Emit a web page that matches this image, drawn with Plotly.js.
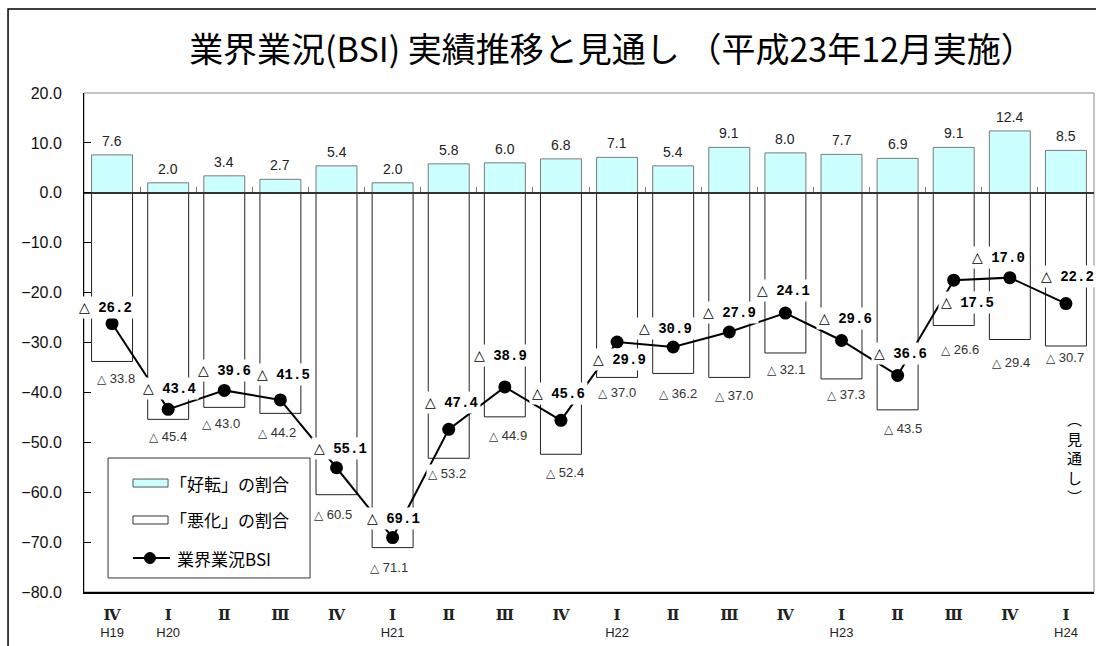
<!DOCTYPE html>
<html>
<head>
<meta charset="utf-8">
<script src="https://cdn.plot.ly/plotly-3.0.1.min.js"></script>
<style>html,body{margin:0;padding:0;background:#fff;}</style>
</head>
<body>
<div id="chart" style="width:1096px;height:646px;"></div>
<script>
// 四半期（平成年度）
const periods = ['H19Ⅳ','H20Ⅰ','H20Ⅱ','H20Ⅲ','H20Ⅳ','H21Ⅰ','H21Ⅱ','H21Ⅲ','H21Ⅳ',
                 'H22Ⅰ','H22Ⅱ','H22Ⅲ','H22Ⅳ','H23Ⅰ','H23Ⅱ','H23Ⅲ','H23Ⅳ','H24Ⅰ'];
const quarterLabels = ['Ⅳ','Ⅰ','Ⅱ','Ⅲ','Ⅳ','Ⅰ','Ⅱ','Ⅲ','Ⅳ','Ⅰ','Ⅱ','Ⅲ','Ⅳ','Ⅰ','Ⅱ','Ⅲ','Ⅳ','Ⅰ'];
const yearLabels = ['H19','H20','','','','H21','','','','H22','','','','H23','','','','H24'];

// 「好転」の割合（％）
const improved = [7.6, 2.0, 3.4, 2.7, 5.4, 2.0, 5.8, 6.0, 6.8, 7.1, 5.4, 9.1, 8.0, 7.7, 6.9, 9.1, 12.4, 8.5];
// 「悪化」の割合（％）
const worsened = [33.8, 45.4, 43.0, 44.2, 60.5, 71.1, 53.2, 44.9, 52.4, 37.0, 36.2, 37.0, 32.1, 37.3, 43.5, 26.6, 29.4, 30.7];
// 業界業況BSI
const bsi = [-26.2, -43.4, -39.6, -41.5, -55.1, -69.1, -47.4, -38.9, -45.6, -29.9, -30.9, -27.9, -24.1, -29.6, -36.6, -17.5, -17.0, -22.2];

// 軸の範囲
const yMin = -80, yMax = 20;

// ラベルの配置調整（px）
const bsiLabelDx = [-7, 1, 0, 3, 4, 1, 3, -4, -2, 2, -8, 0, -2, 4, 3, 14, -11, 2];
const bsiLabelDy = [16, 21, 20, 25, 19, 19, 27, 31, 27, -17, 18, 20, 23, 22, 22, -22, 20, 27];
const worseLabelDx = [4, 0, -3, -3, -4, -4, -2, 3, 4, 0, 5, 5, 1, 4, 5, 6, 1, -1];
const worseLabelDy = [17, 17, 16, 19, 20, 20, 15, 19, 18, 15, 20, 18, 17, 16, 19, 24, 23, 12];

const tri = (family, size, bold) =>
  '<span style="font-family:\'' + family + '\';font-size:' + size + 'px' +
  (bold ? ';font-weight:bold' : '') + '">△</span>';

const tickText = quarterLabels.map((q, i) =>
  '<span style="font-family:\'DejaVu Serif\';font-weight:bold;font-size:15px">' + q + '</span>' +
  (yearLabels[i] ? '<br>' + yearLabels[i] : '<br> '));

const traces = [
  {
    type: 'bar', name: '「好転」の割合', x: periods, y: improved, width: 0.73,
    marker: {color: '#CCFFFF', line: {color: '#7a7a7a', width: 1}},
    hoverinfo: 'skip'
  },
  {
    type: 'bar', name: '「悪化」の割合', x: periods, y: worsened.map(v => -v), width: 0.73,
    marker: {color: '#ffffff', line: {color: '#222222', width: 1}},
    hoverinfo: 'skip'
  },
  {
    type: 'scatter', mode: 'lines+markers', name: '業界業況BSI', x: periods, y: bsi,
    xaxis: 'x2',
    line: {color: '#000000', width: 2},
    marker: {color: '#000000', size: 13},
    hoverinfo: 'skip'
  }
];

const annotations = [];

// 好転の値
improved.forEach((v, i) => annotations.push({
  x: periods[i], y: v, xref: 'x', yref: 'y', yshift: 14, showarrow: false,
  text: v.toFixed(1),
  font: {family: 'Liberation Sans, Arial, sans-serif', size: 14, color: '#222'}
}));

// 悪化の値
worsened.forEach((v, i) => annotations.push({
  x: periods[i], y: -v, xref: 'x', yref: 'y',
  xshift: worseLabelDx[i], yshift: -worseLabelDy[i], showarrow: false,
  text: tri('DejaVu Sans', 12, false) + ' ' + v.toFixed(1), bgcolor: '#ffffff', borderpad: 1,
  font: {family: 'Liberation Sans, Arial, sans-serif', size: 13, color: '#333'}
}));

// BSIの値
bsi.forEach((v, i) => annotations.push({
  x: periods[i], y: v, xref: 'x', yref: 'y',
  xshift: bsiLabelDx[i], yshift: bsiLabelDy[i], showarrow: false,
  text: '<b>' + tri('DejaVu Sans', 14, true) + ' ' + Math.abs(v).toFixed(1) + '</b>',
  bgcolor: '#ffffff', borderpad: 2,
  font: {family: 'Liberation Mono, DejaVu Sans Mono, monospace', size: 14, color: '#000'}
}));

// 見通し表記（縦書き）
annotations.push({
  x: periods[periods.length - 1], y: -53, xref: 'x', yref: 'y', xshift: 9, showarrow: false,
  text: '︵<br>見<br>通<br>し<br>︶',
  font: {family: 'Noto Sans CJK JP', size: 15, color: '#000'}
});

// 凡例
const legendFont = {family: 'Noto Sans CJK JP', size: 17, color: '#000'};
const legendRows = [0.2184, 0.1443, 0.0681];
annotations.push(
  {xref: 'paper', yref: 'paper', x: 0.0832, y: legendRows[0], xanchor: 'left', yanchor: 'middle',
   showarrow: false, text: '「好転」の割合', font: legendFont},
  {xref: 'paper', yref: 'paper', x: 0.0832, y: legendRows[1], xanchor: 'left', yanchor: 'middle',
   showarrow: false, text: '「悪化」の割合', font: legendFont},
  {xref: 'paper', yref: 'paper', x: 0.0905, y: legendRows[2], xanchor: 'left', yanchor: 'middle',
   showarrow: false, text: '業界業況BSI', font: legendFont}
);

const pxX = 1 / 1010, pxY = 1 / 499;
const shapes = [
  // 外枠
  {type: 'rect', xref: 'paper', yref: 'paper', x0: -0.0752, x1: 1.2, y0: -0.5, y1: 1.1683,
   line: {color: '#000', width: 1.5}, fillcolor: 'rgba(0,0,0,0)', layer: 'below'},
  // プロット領域枠
  {type: 'rect', xref: 'paper', yref: 'paper', x0: 0, x1: 1, y0: 0, y1: 1,
   line: {color: '#8a8a8a', width: 1}, fillcolor: 'rgba(0,0,0,0)', layer: 'below'},
  // 凡例枠
  {type: 'rect', xref: 'paper', yref: 'paper', x0: 0.0238, x1: 0.2238, y0: 0.0281, y1: 0.2685,
   line: {color: '#333', width: 1}, fillcolor: '#ffffff'},
  // 凡例：好転
  {type: 'rect', xref: 'paper', yref: 'paper', x0: 0.0485, x1: 0.0832,
   y0: legendRows[0] - 4 * pxY, y1: legendRows[0] + 4 * pxY,
   line: {color: '#555', width: 1}, fillcolor: '#CCFFFF'},
  // 凡例：悪化
  {type: 'rect', xref: 'paper', yref: 'paper', x0: 0.0485, x1: 0.0832,
   y0: legendRows[1] - 4 * pxY, y1: legendRows[1] + 4 * pxY,
   line: {color: '#333', width: 1}, fillcolor: '#ffffff'},
  // 凡例：BSI
  {type: 'line', xref: 'paper', yref: 'paper', x0: 0.0485, x1: 0.0851,
   y0: legendRows[2], y1: legendRows[2], line: {color: '#000', width: 2}},
  {type: 'circle', xref: 'paper', yref: 'paper',
   x0: 0.0653 - 5.5 * pxX, x1: 0.0653 + 5.5 * pxX,
   y0: legendRows[2] - 5.5 * pxY, y1: legendRows[2] + 5.5 * pxY,
   line: {color: '#000', width: 1}, fillcolor: '#000'}
];

const layout = {
  width: 1096, height: 646,
  margin: {l: 84, r: 2, t: 93, b: 54},
  paper_bgcolor: '#ffffff', plot_bgcolor: '#ffffff',
  showlegend: false,
  barmode: 'overlay',
  title: {
    text: '業界業況(BSI) 実績推移と見通し （平成23年12月実施）',
    font: {family: 'Noto Sans CJK JP', size: 34, color: '#000'},
    xref: 'container', yref: 'container', x: 612 / 1096, y: 1 - 50 / 646,
    xanchor: 'center', yanchor: 'middle'
  },
  xaxis: {
    type: 'category', categoryorder: 'array', categoryarray: periods,
    range: [-0.5, periods.length - 0.5],
    showline: true, linecolor: '#000', linewidth: 1.5,
    ticks: '', tickmode: 'array', tickvals: periods, ticktext: tickText,
    tickfont: {family: 'Liberation Sans, Arial, sans-serif', size: 13, color: '#222'},
    ticklabelstandoff: 11,
    showgrid: false, zeroline: false, fixedrange: true
  },
  xaxis2: {
    type: 'category', categoryorder: 'array', categoryarray: periods,
    range: [-0.5, periods.length - 0.5],
    overlaying: 'x', anchor: 'free', side: 'bottom',
    position: (0 - yMin) / (yMax - yMin),
    showline: true, linecolor: '#333', linewidth: 2,
    ticks: 'inside', tickson: 'boundaries', ticklen: 5, tickcolor: '#777', tickwidth: 1,
    showticklabels: false, showgrid: false, zeroline: false, fixedrange: true
  },
  yaxis: {
    range: [yMin, yMax], tick0: 0, dtick: 10, tickformat: '.1f',
    ticks: 'inside', ticklen: 7, tickcolor: '#000',
    showline: true, linecolor: '#000', linewidth: 1,
    tickfont: {family: 'Liberation Sans, Arial, sans-serif', size: 16, color: '#111'},
    ticklabelstandoff: 18,
    showgrid: false, zeroline: false, fixedrange: true
  },
  shapes: shapes,
  annotations: annotations
};

Plotly.newPlot('chart', traces, layout, {displayModeBar: false, staticPlot: true});
</script>
</body>
</html>
